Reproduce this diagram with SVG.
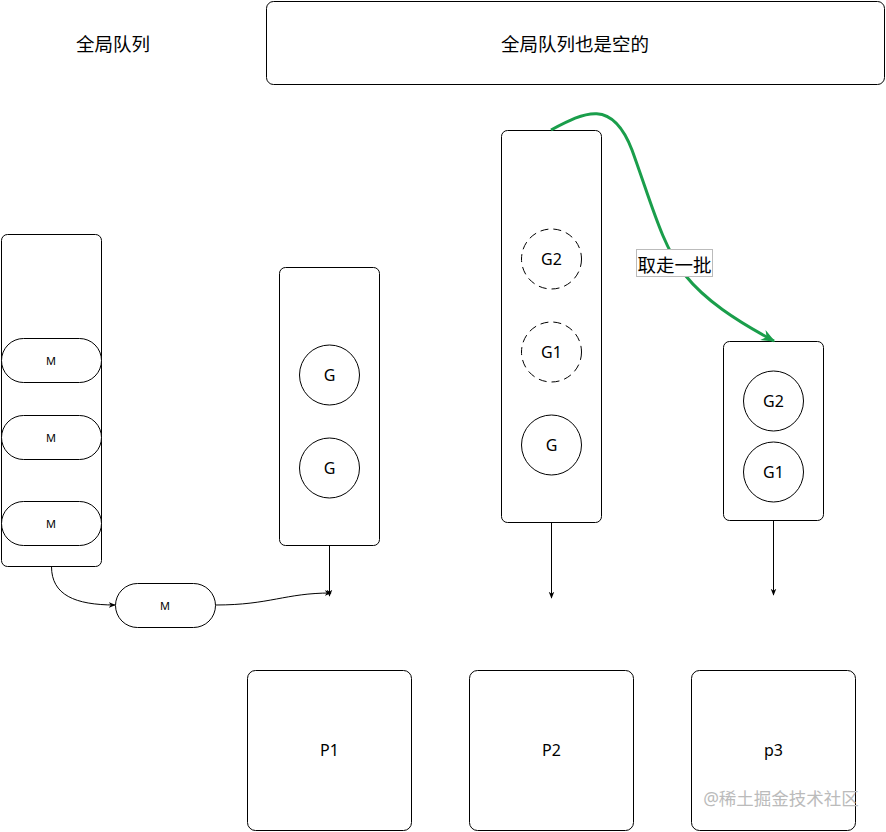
<svg xmlns="http://www.w3.org/2000/svg" width="886" height="832" viewBox="0 0 886 832">
<style>
text{font-family:"Noto Sans","Noto Sans CJK SC",sans-serif;fill:#000;text-anchor:middle;dominant-baseline:central}
.box{fill:#fff;stroke:#000;stroke-width:1}
.c{fill:#fff;stroke:#000;stroke-width:1}
.d{fill:#fff;stroke:#000;stroke-width:1;stroke-dasharray:8 5}
.ln{fill:none;stroke:#000;stroke-width:1}
.t16{font-size:16px}
.t18{font-size:18.5px}
.t11{font-size:11px}
</style>
<defs>
<marker id="a" viewBox="0 0 10 10" refX="9" refY="5" markerWidth="7" markerHeight="7" orient="auto" markerUnits="userSpaceOnUse"><path d="M0,1 L10,5 L0,9 L3,5 Z" fill="#000"/></marker>
<marker id="g" viewBox="0 0 10 10" refX="9" refY="5" markerWidth="14" markerHeight="14" orient="auto" markerUnits="userSpaceOnUse"><path d="M0,1 L10,5 L0,9 L3,5 Z" fill="#1a9e4b"/></marker>
</defs>
<rect width="886" height="832" fill="#fff"/>
<g id="label-global"><text x="113" y="43" class="t18">全局队列</text></g>
<g id="global-queue"><rect x="266.5" y="1.5" width="618" height="83" rx="7" class="box"/><text x="575" y="43" class="t18">全局队列也是空的</text></g>
<g id="m-container"><rect x="1.5" y="234.5" width="100" height="332" rx="6" class="box"/></g>
<g id="m1"><rect x="1.5" y="338.5" width="100" height="44" rx="22" class="box"/><text x="51" y="360.5" class="t11">M</text></g>
<g id="m2"><rect x="1.5" y="415.5" width="100" height="44" rx="22" class="box"/><text x="51" y="437.5" class="t11">M</text></g>
<g id="m3"><rect x="1.5" y="501.5" width="100" height="44" rx="22" class="box"/><text x="51" y="523.5" class="t11">M</text></g>
<g id="m-moving"><rect x="115.5" y="583.5" width="100" height="44" rx="22" class="box"/><text x="165" y="605.5" class="t11">M</text></g>
<g id="p1-queue"><rect x="279.5" y="267.5" width="100" height="278" rx="6" class="box"/><circle cx="329.5" cy="375" r="30" class="c"/><text x="329.5" y="375" class="t16">G</text><circle cx="329.5" cy="468" r="30" class="c"/><text x="329.5" y="468" class="t16">G</text></g>
<g id="p2-queue"><rect x="501.5" y="130.5" width="100" height="392" rx="6" class="box"/><circle cx="551.5" cy="259" r="30" class="d"/><text x="551.5" y="259" class="t16">G2</text><circle cx="551.5" cy="352" r="30" class="d"/><text x="551.5" y="352" class="t16">G1</text><circle cx="551.5" cy="445" r="30" class="c"/><text x="551.5" y="445" class="t16">G</text></g>
<g id="p3-queue"><rect x="723.5" y="341.5" width="100" height="179" rx="6" class="box"/><circle cx="773.5" cy="401" r="30" class="c"/><text x="773.5" y="401" class="t16">G2</text><circle cx="773.5" cy="472" r="30" class="c"/><text x="773.5" y="472" class="t16">G1</text></g>
<g id="p1"><rect x="247.5" y="670.5" width="164" height="160" rx="8" class="box"/><text x="329.5" y="750" class="t16">P1</text></g>
<g id="p2"><rect x="469.5" y="670.5" width="164" height="160" rx="8" class="box"/><text x="551.5" y="750" class="t16">P2</text></g>
<g id="p3"><rect x="691.5" y="670.5" width="164" height="160" rx="8" class="box"/><text x="773.5" y="750" class="t16">p3</text></g>
<g id="connectors">
<path d="M51.5 566.5 C51.5 595 75 605 115 605" class="ln" marker-end="url(#a)"/>
<path d="M215.5 605 C270 605 285 593 331 593" class="ln" marker-end="url(#a)"/>
<path d="M329.5 545.5 L329.5 596" class="ln" marker-end="url(#a)"/>
<path d="M551.5 522.5 L551.5 598" class="ln" marker-end="url(#a)"/>
<path d="M773.5 520.5 L773.5 595" class="ln" marker-end="url(#a)"/>
<path d="M551 130 C585 112 612 98 632 150 C652 205 662 245 685 275 C705 300 735 320 774 341" fill="none" stroke="#1a9e4b" stroke-width="3" marker-end="url(#g)"/>
<rect x="636.5" y="249.5" width="76" height="27" fill="#fff" stroke="#bbb" stroke-width="1"/>
<text x="674.5" y="264" class="t18">取走一批</text>
</g>
<text x="781" y="798" style="font-size:17.5px;fill:#bbb">@稀土掘金技术社区</text>
</svg>
